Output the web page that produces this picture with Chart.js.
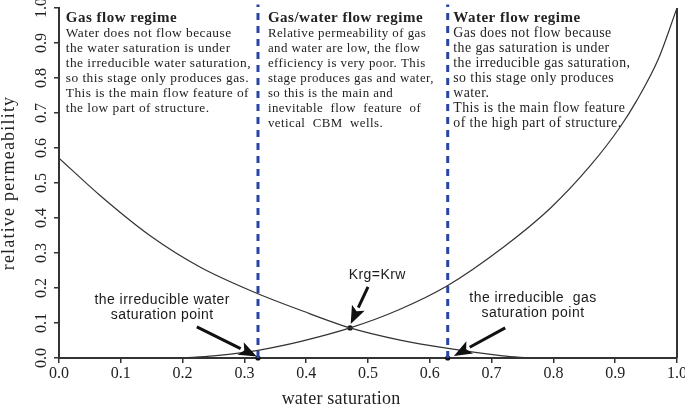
<!DOCTYPE html>
<html>
<head>
<meta charset="utf-8">
<script src="https://cdn.jsdelivr.net/npm/chart.js@4.4.1/dist/chart.umd.min.js"></script>
<style>
  body { margin: 0; background: #fff; }
  #wrap { width: 685px; height: 407px; }
</style>
</head>
<body>
<div id="wrap"><canvas id="kChart" width="685" height="407"></canvas></div>
<script>
// water saturation / relative permeability readings
const krwSw = [0.2, 0.25, 0.3, 0.322, 0.39, 0.471, 0.55, 0.627, 0.72, 0.795, 0.859, 0.908, 0.935, 0.97, 1.0];
const krwVal = [0, 0.006, 0.016, 0.022, 0.047, 0.086, 0.138, 0.205, 0.318, 0.428, 0.548, 0.66, 0.736, 0.855, 1.0];
const krgSw = [0, 0.066, 0.147, 0.228, 0.32, 0.39, 0.471, 0.552, 0.627, 0.718, 0.76];
const krgVal = [0.571, 0.465, 0.35, 0.26, 0.185, 0.137, 0.086, 0.051, 0.028, 0.006, 0];
const cutoffSw = [0.322, 0.629];
const markSw = [0.322, 0.471, 0.629];
const markVal = [0, 0.086, 0];
const xTicks = [0, 0.1, 0.2, 0.3, 0.4, 0.5, 0.6, 0.7, 0.8, 0.9, 1.0];
const yTicks = [0, 0.1, 0.2, 0.3, 0.4, 0.5, 0.6, 0.7, 0.8, 0.9, 1.0];

const regimes = [
    { x: 0.011, title: 'Gas flow regime', lines: [
        'Water does not flow because',
        'the water saturation is under',
        'the irreducible water saturation,',
        'so this stage only produces gas.',
        'This is the main flow feature of',
        'the low part of structure.'] },
    { x: 0.338, title: 'Gas/water flow regime', lines: [
        'Relative permeability of gas',
        'and water are low, the flow',
        'efficiency is very poor. This',
        'stage produces gas and water,',
        'so this is the main and',
        'inevitable  flow  feature  of',
        'vetical  CBM  wells.'] },
    { x: 0.638, title: 'Water flow regime', lines: [
        'Gas does not flow because',
        'the gas saturation is under',
        'the irreducible gas saturation,',
        'so this stage only produces',
        'water.',
        'This is the main flow feature',
        'of the high part of structure.'] }
];

const notes = [
    { x: 0.167, y: 0.166, text: 'the irreducible water' },
    { x: 0.167, y: 0.123, text: 'saturation point' },
    { x: 0.515, y: 0.237, text: 'Krg=Krw' },
    { x: 0.767, y: 0.171, text: 'the irreducible  gas' },
    { x: 0.767, y: 0.129, text: 'saturation point' }
];

const arrows = [
    { x0: 0.223, y0: 0.089, x1: 0.32, y1: 0.004 },
    { x0: 0.5, y0: 0.203, x1: 0.472, y1: 0.097 },
    { x0: 0.722, y0: 0.086, x1: 0.639, y1: 0.006 }
];

const ink = '#333333';
const serif = '"Liberation Serif", "Times New Roman", serif';
const sans = '"Liberation Sans", Arial, sans-serif';
const bodySize = [13.4, 12.9, 13.8];

function toPoints(xs, ys) {
    return xs.map((x, i) => ({ x: x, y: ys[i] }));
}

const cutoffSets = cutoffSw.map(sw => ({
    data: [{ x: sw, y: 0 }, { x: sw, y: 1.01 }],
    borderColor: '#2a44a6',
    borderWidth: 3,
    borderDash: [7, 6],
    pointRadius: 0,
    showLine: true,
    clip: false
}));

// annotations, axis labels and right frame
const overlay = {
    id: 'overlay',
    afterDatasetsDraw(chart) {
        const ctx = chart.ctx;
        const xs = chart.scales.x;
        const ys = chart.scales.y;
        const area = chart.chartArea;
        ctx.save();

        // right frame line
        ctx.strokeStyle = ink;
        ctx.lineWidth = 2;
        ctx.beginPath();
        ctx.moveTo(area.right, area.top);
        ctx.lineTo(area.right, area.bottom);
        ctx.stroke();

        // y tick labels, rotated
        ctx.fillStyle = '#222';
        ctx.font = '16px ' + serif;
        ctx.textAlign = 'center';
        ctx.textBaseline = 'middle';
        yTicks.forEach(v => {
            ctx.save();
            ctx.translate(42, ys.getPixelForValue(v));
            ctx.rotate(-Math.PI / 2);
            ctx.fillText(v.toFixed(1), 0, 0);
            ctx.restore();
        });

        // axis titles
        ctx.font = '18px ' + serif;
        ctx.letterSpacing = '1.2px';
        ctx.save();
        ctx.translate(9, (area.top + area.bottom) / 2);
        ctx.rotate(-Math.PI / 2);
        ctx.fillText('relative permeability', 0, 0);
        ctx.restore();
        ctx.letterSpacing = '0.2px';
        ctx.textBaseline = 'alphabetic';
        ctx.fillText('water saturation', 341, 404);

        // regime text blocks
        ctx.textAlign = 'left';
        regimes.forEach((r, k) => {
            const px = xs.getPixelForValue(r.x);
            ctx.font = 'bold 15px ' + serif;
            ctx.letterSpacing = '0.5px';
            ctx.fillText(r.title, px, area.top + 14);
            ctx.font = bodySize[k] + 'px ' + serif;
            ctx.letterSpacing = '0.45px';
            r.lines.forEach((ln, i) => {
                ctx.fillText(ln, px, area.top + 29 + i * 15);
            });
        });

        // point notes
        ctx.font = '14px ' + sans;
        ctx.letterSpacing = '0.45px';
        ctx.textAlign = 'center';
        ctx.textBaseline = 'middle';
        ctx.fillStyle = '#1a1a1a';
        notes.forEach(n => {
            ctx.fillText(n.text, xs.getPixelForValue(n.x), ys.getPixelForValue(n.y));
        });
        ctx.letterSpacing = '0px';

        // arrows
        ctx.strokeStyle = '#111';
        ctx.fillStyle = '#111';
        arrows.forEach(a => {
            const x0 = xs.getPixelForValue(a.x0), y0 = ys.getPixelForValue(a.y0);
            const x1 = xs.getPixelForValue(a.x1), y1 = ys.getPixelForValue(a.y1);
            const ang = Math.atan2(y1 - y0, x1 - x0);
            const head = 18, half = 7;
            const bx = x1 - head * Math.cos(ang), by = y1 - head * Math.sin(ang);
            ctx.lineWidth = 3;
            ctx.beginPath();
            ctx.moveTo(x0, y0);
            ctx.lineTo(bx, by);
            ctx.stroke();
            ctx.beginPath();
            ctx.moveTo(x1, y1);
            ctx.lineTo(bx + half * Math.sin(ang), by - half * Math.cos(ang));
            ctx.lineTo(x1 - (head - 4) * Math.cos(ang), y1 - (head - 4) * Math.sin(ang));
            ctx.lineTo(bx - half * Math.sin(ang), by + half * Math.cos(ang));
            ctx.closePath();
            ctx.fill();
        });

        ctx.restore();
    }
};

const config = {
    type: 'scatter',
    data: {
        datasets: [
            {
                label: 'Krw',
                data: toPoints(krwSw, krwVal),
                borderColor: ink,
                borderWidth: 1.2,
                pointRadius: 0,
                showLine: true,
                cubicInterpolationMode: 'monotone'
            },
            {
                label: 'Krg',
                data: toPoints(krgSw, krgVal),
                borderColor: ink,
                borderWidth: 1.2,
                pointRadius: 0,
                showLine: true,
                cubicInterpolationMode: 'monotone'
            },
            ...cutoffSets,
            {
                label: 'marks',
                data: toPoints(markSw, markVal),
                pointRadius: 2.6,
                pointBackgroundColor: '#111',
                pointBorderWidth: 0,
                showLine: false,
                clip: false
            }
        ]
    },
    options: {
        responsive: false,
        animation: false,
        layout: { padding: { top: 8, right: 8, left: 0, bottom: 0 } },
        plugins: {
            legend: { display: false },
            tooltip: { enabled: false }
        },
        scales: {
            x: {
                type: 'linear',
                min: 0,
                max: 1,
                afterBuildTicks: s => { s.ticks = xTicks.map(v => ({ value: v })); },
                afterFit: s => { s.height = 49; s.paddingLeft = 0; s.paddingRight = 0; },
                ticks: {
                    color: '#222',
                    font: { family: serif, size: 16 },
                    padding: 1,
                    maxRotation: 0,
                    callback: v => v.toFixed(1)
                },
                grid: { drawOnChartArea: false, drawTicks: true, tickLength: 5, color: ink, lineWidth: 1.5 },
                border: { display: true, color: ink, width: 2 }
            },
            y: {
                type: 'linear',
                min: 0,
                max: 1,
                afterBuildTicks: s => { s.ticks = yTicks.map(v => ({ value: v })); },
                afterFit: s => { s.width = 59; s.paddingTop = 0; s.paddingBottom = 0; },
                ticks: { display: false },
                grid: { drawOnChartArea: false, drawTicks: true, tickLength: 5, color: ink, lineWidth: 1.5 },
                border: { display: true, color: ink, width: 2 }
            }
        }
    },
    plugins: [overlay]
};

const ctx = document.getElementById('kChart').getContext('2d');
new Chart(ctx, config);
</script>
</body>
</html>
